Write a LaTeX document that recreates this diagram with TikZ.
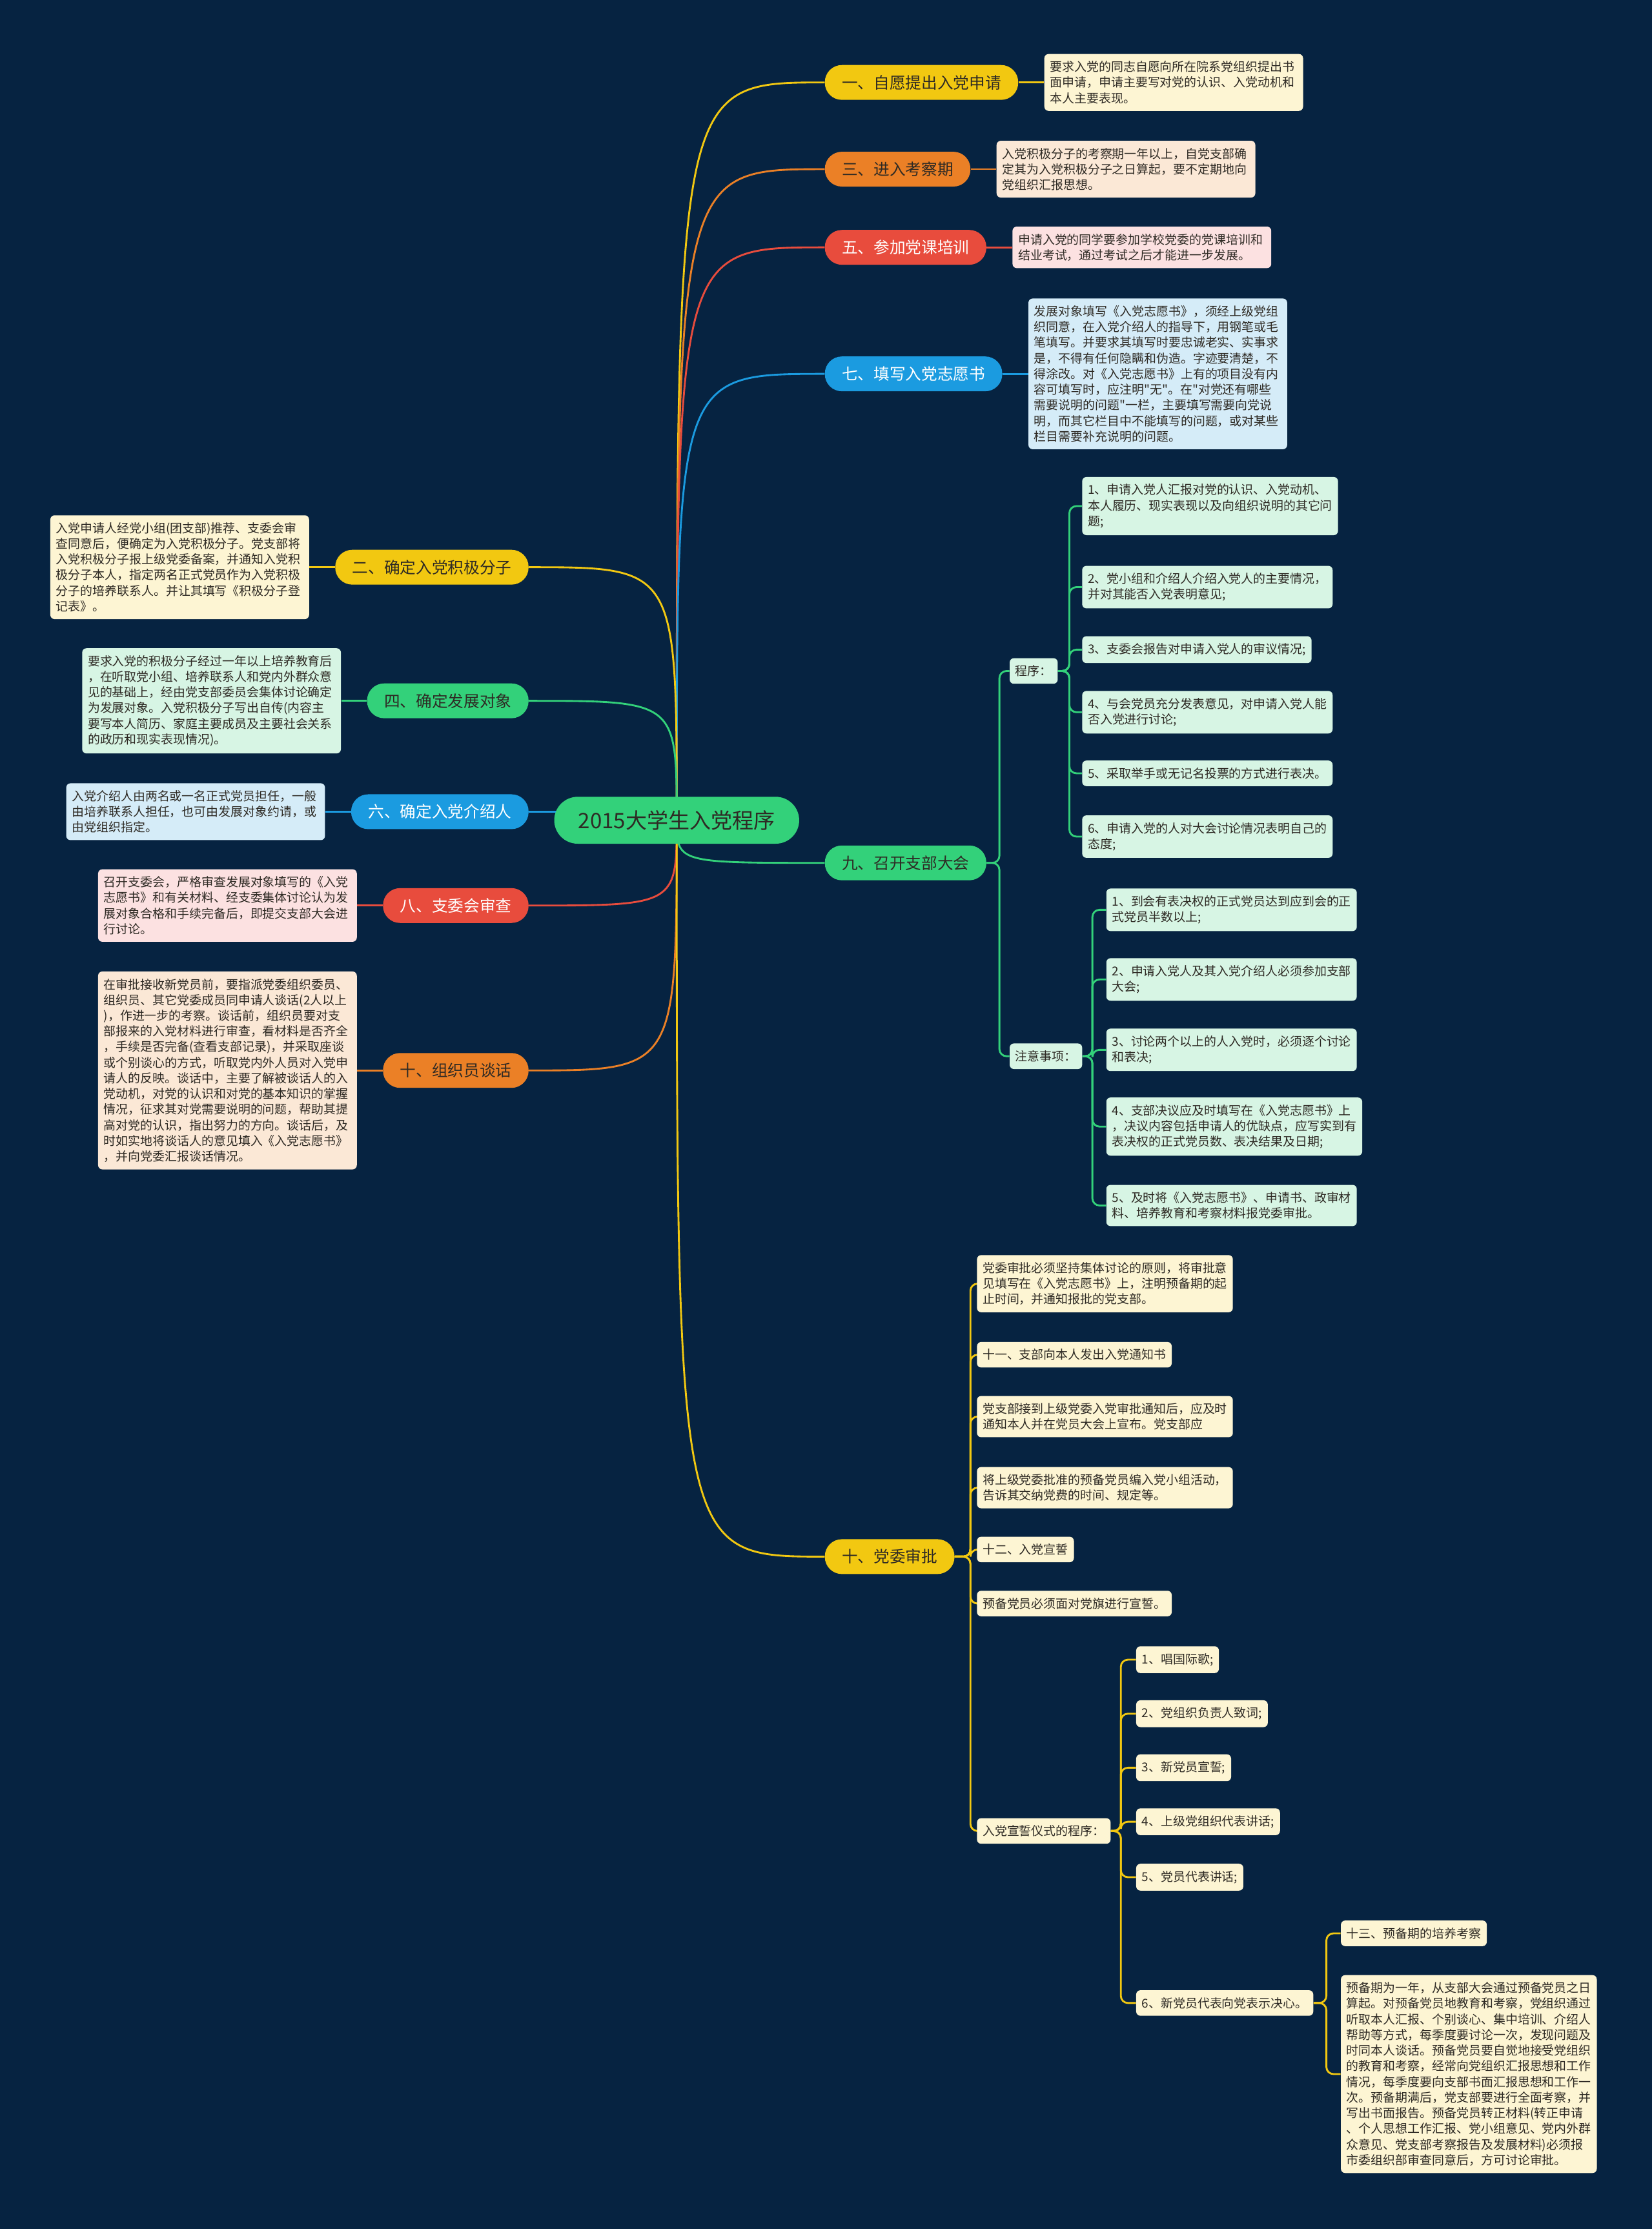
\documentclass[tikz,border=0pt]{standalone}
\usepackage{fontspec}
\setmainfont{Noto Sans CJK SC}[Ligatures=TeXOff]
\usetikzlibrary{positioning}

\definecolor{bgnavy}{HTML}{062341}
\definecolor{cyellow}{HTML}{F2C811}
\definecolor{corange}{HTML}{EB8026}
\definecolor{cred}{HTML}{E84C3D}
\definecolor{cblue}{HTML}{1B9BE0}
\definecolor{cgreen}{HTML}{33D17A}
\definecolor{fcream}{HTML}{FDF5D3}
\definecolor{fpeach}{HTML}{FBE8D6}
\definecolor{fpink}{HTML}{FCE1E1}
\definecolor{fblue}{HTML}{D5ECF8}
\definecolor{fgreen}{HTML}{D7F5E4}
\definecolor{inkdark}{HTML}{2E2A24}

\pgfdeclarelayer{backdrop}
\pgfdeclarelayer{links}
\pgfsetlayers{backdrop,links,main}

\begin{document}
\begin{tikzpicture}[
    x=1pt,y=-1pt,
    line cap=round,
    line join=round,
    pill/.style={rounded corners=12pt,minimum height=24.5pt,inner xsep=12pt,inner ysep=2pt,
        font=\fontsize{11.2}{13}\selectfont,text=inkdark},
    rootpill/.style={pill,fill=cgreen,rounded corners=16.5pt,minimum height=33pt,
        inner xsep=17pt,font=\fontsize{15}{18}\selectfont},
    desc/.style={rounded corners=3pt,text width=174pt,inner xsep=4pt,inner ysep=5pt,
        align=left,font=\fontsize{8.6}{11}\selectfont,text=inkdark},
    leafbox/.style={rounded corners=3pt,inner xsep=4pt,inner ysep=5pt,align=left,
        font=\fontsize{8.6}{11}\selectfont,text=inkdark,anchor=west},
    mainline/.style={line width=1.3pt},
    subline/.style={line width=1.3pt,rounded corners=5pt},
]

\begin{pgfonlayer}{backdrop}
    \fill[bgnavy] (0,0) rectangle (1162,1568);
\end{pgfonlayer}
\useasboundingbox (0,0) rectangle (1162,1568);

\node[rootpill] (R) at (476,577) {2015大学生入党程序};

% right branches
\node[pill,fill=cyellow,anchor=west] (b1) at (580,58) {一、自愿提出入党申请};
\node[pill,fill=corange,anchor=west] (b3) at (580,119) {三、进入考察期};
\node[pill,fill=cred,text=white,anchor=west] (b5) at (580,174) {五、参加党课培训};
\node[pill,fill=cblue,text=white,anchor=west] (b7) at (580,263) {七、填写入党志愿书};
\node[pill,fill=cgreen,anchor=west] (b9) at (580,607) {九、召开支部大会};
\node[pill,fill=cyellow,anchor=west] (b12) at (580,1095) {十、党委审批};

\node[desc,fill=fcream,right=18pt of b1] (d1) {要求入党的同志自愿向所在院系党组织提出书\\面申请，申请主要写对党的认识、入党动机和\\本人主要表现。};
\node[desc,fill=fpeach,right=18pt of b3] (d3) {入党积极分子的考察期一年以上，自党支部确\\定其为入党积极分子之日算起，要不定期地向\\党组织汇报思想。};
\node[desc,fill=fpink,right=18pt of b5] (d5) {申请入党的同学要参加学校党委的党课培训和\\结业考试，通过考试之后才能进一步发展。};
\node[desc,fill=fblue,right=18pt of b7] (d7) {发展对象填写《入党志愿书》，须经上级党组\\织同意，在入党介绍人的指导下，用钢笔或毛\\笔填写。并要求其填写时要忠诚老实、实事求\\是，不得有任何隐瞒和伪造。字迹要清楚，不\\得涂改。对《入党志愿书》上有的项目没有内\\容可填写时，应注明"无"。在"对党还有哪些\\需要说明的问题"一栏，主要填写需要向党说\\明，而其它栏目中不能填写的问题，或对某些\\栏目需要补充说明的问题。};

% left branches
\node[pill,fill=cyellow,anchor=east] (b2) at (372,399) {二、确定入党积极分子};
\node[pill,fill=cgreen,anchor=east] (b4) at (372,493) {四、确定发展对象};
\node[pill,fill=cblue,text=white,anchor=east] (b6) at (372,571) {六、确定入党介绍人};
\node[pill,fill=cred,text=white,anchor=east] (b8) at (372,637) {八、支委会审查};
\node[pill,fill=corange,anchor=east] (b10) at (372,753) {十、组织员谈话};

\node[desc,fill=fcream,left=18pt of b2] (d2) {入党申请人经党小组(团支部)推荐、支委会审\\查同意后，便确定为入党积极分子。党支部将\\入党积极分子报上级党委备案，并通知入党积\\极分子本人，指定两名正式党员作为入党积极\\分子的培养联系人。并让其填写《积极分子登\\记表》。};
\node[desc,fill=fgreen,left=18pt of b4] (d4) {要求入党的积极分子经过一年以上培养教育后\\，在听取党小组、培养联系人和党内外群众意\\见的基础上，经由党支部委员会集体讨论确定\\为发展对象。入党积极分子写出自传(内容主\\要写本人简历、家庭主要成员及主要社会关系\\的政历和现实表现情况)。};
\node[desc,fill=fblue,left=18pt of b6] (d6) {入党介绍人由两名或一名正式党员担任，一般\\由培养联系人担任，也可由发展对象约请，或\\由党组织指定。};
\node[desc,fill=fpink,left=18pt of b8] (d8) {召开支委会，严格审查发展对象填写的《入党\\志愿书》和有关材料、经支委集体讨论认为发\\展对象合格和手续完备后，即提交支部大会进\\行讨论。};
\node[desc,fill=fpeach,left=18pt of b10] (d10) {在审批接收新党员前，要指派党委组织委员、\\组织员、其它党委成员同申请人谈话(2人以上\\)，作进一步的考察。谈话前，组织员要对支\\部报来的入党材料进行审查，看材料是否齐全\\，手续是否完备(查看支部记录)，并采取座谈\\或个别谈心的方式，听取党内外人员对入党申\\请人的反映。谈话中，主要了解被谈话人的入\\党动机，对党的认识和对党的基本知识的掌握\\情况，征求其对党需要说明的问题，帮助其提\\高对党的认识，指出努力的方向。谈话后，及\\时如实地将谈话人的意见填入《入党志愿书》\\，并向党委汇报谈话情况。};

% meeting
\node[leafbox,fill=fgreen] (g1) at (710,472) {程序：};
\node[leafbox,fill=fgreen] (g2) at (710,743) {注意事项：};

\node[leafbox,fill=fgreen] (pr1) at (761,356) {1、申请入党人汇报对党的认识、入党动机、\\本人履历、现实表现以及向组织说明的其它问\\题;};
\node[leafbox,fill=fgreen] (pr2) at (761,413) {2、党小组和介绍人介绍入党人的主要情况，\\并对其能否入党表明意见;};
\node[leafbox,fill=fgreen] (pr3) at (761,457) {3、支委会报告对申请入党人的审议情况;};
\node[leafbox,fill=fgreen] (pr4) at (761,501) {4、与会党员充分发表意见，对申请入党人能\\否入党进行讨论;};
\node[leafbox,fill=fgreen] (pr5) at (761,544) {5、采取举手或无记名投票的方式进行表决。};
\node[leafbox,fill=fgreen] (pr6) at (761,588.5) {6、申请入党的人对大会讨论情况表明自己的\\态度;};

\node[leafbox,fill=fgreen] (nt1) at (778,640) {1、到会有表决权的正式党员达到应到会的正\\式党员半数以上;};
\node[leafbox,fill=fgreen] (nt2) at (778,689) {2、申请入党人及其入党介绍人必须参加支部\\大会;};
\node[leafbox,fill=fgreen] (nt3) at (778,738.5) {3、讨论两个以上的人入党时，必须逐个讨论\\和表决;};
\node[leafbox,fill=fgreen] (nt4) at (778,792.5) {4、支部决议应及时填写在《入党志愿书》上\\，决议内容包括申请人的优缺点，应写实到有\\表决权的正式党员数、表决结果及日期;};
\node[leafbox,fill=fgreen] (nt5) at (778,848) {5、及时将《入党志愿书》、申请书、政审材\\料、培养教育和考察材料报党委审批。};

% approval
\node[leafbox,fill=fcream] (a1) at (687,903) {党委审批必须坚持集体讨论的原则，将审批意\\见填写在《入党志愿书》上，注明预备期的起\\止时间，并通知报批的党支部。};
\node[leafbox,fill=fcream] (a2) at (687,953) {十一、支部向本人发出入党通知书};
\node[leafbox,fill=fcream] (a3) at (687,996.5) {党支部接到上级党委入党审批通知后，应及时\\通知本人并在党员大会上宣布。党支部应};
\node[leafbox,fill=fcream] (a4) at (687,1046.5) {将上级党委批准的预备党员编入党小组活动，\\告诉其交纳党费的时间、规定等。};
\node[leafbox,fill=fcream] (a5) at (687,1090) {十二、入党宣誓};
\node[leafbox,fill=fcream] (a6) at (687,1128) {预备党员必须面对党旗进行宣誓。};
\node[leafbox,fill=fcream] (a7) at (687,1288) {入党宣誓仪式的程序：};

\node[leafbox,fill=fcream] (c1) at (799,1167.5) {1、唱国际歌;};
\node[leafbox,fill=fcream] (c2) at (799,1205.5) {2、党组织负责人致词;};
\node[leafbox,fill=fcream] (c3) at (799,1243.5) {3、新党员宣誓;};
\node[leafbox,fill=fcream] (c4) at (799,1281.5) {4、上级党组织代表讲话;};
\node[leafbox,fill=fcream] (c5) at (799,1320.5) {5、党员代表讲话;};
\node[leafbox,fill=fcream] (c6) at (799,1409) {6、新党员代表向党表示决心。};

\node[leafbox,fill=fcream] (e1) at (943,1360) {十三、预备期的培养考察};
\node[leafbox,fill=fcream] (e2) at (943,1459) {预备期为一年，从支部大会通过预备党员之日\\算起。对预备党员地教育和考察，党组织通过\\听取本人汇报、个别谈心、集中培训、介绍人\\帮助等方式，每季度要讨论一次，发现问题及\\时同本人谈话。预备党员要自觉地接受党组织\\的教育和考察，经常向党组织汇报思想和工作\\情况，每季度要向支部书面汇报思想和工作一\\次。预备期满后，党支部要进行全面考察，并\\写出书面报告。预备党员转正材料(转正申请\\、个人思想工作汇报、党小组意见、党内外群\\众意见、党支部考察报告及发展材料)必须报\\市委组织部审查同意后，方可讨论审批。};

\begin{pgfonlayer}{links}
    \foreach \n/\col in {1/cyellow,3/corange,5/cred,7/cblue}{
        \draw[mainline,\col] (R.center) .. controls (R.center |- b\n.west) and (R.center |- b\n.west) .. (b\n.west);
        \draw[mainline,\col] (b\n.east) -- (d\n.west);
    }
    \foreach \n/\col in {2/cyellow,4/cgreen,6/cblue,8/cred,10/corange}{
        \draw[mainline,\col] (R.center) .. controls (R.center |- b\n.east) and (R.center |- b\n.east) .. (b\n.east);
        \draw[mainline,\col] (b\n.west) -- (d\n.east);
    }
    \foreach \n/\col in {9/cgreen,12/cyellow}
        \draw[mainline,\col] (R.center) .. controls (R.center |- b\n.west) and (R.center |- b\n.west) .. (b\n.west);

    \foreach \k in {1,2}
        \draw[subline,cgreen] (b9.east) -- ++(9,0) |- (g\k.west);
    \foreach \k in {1,...,6}
        \draw[subline,cgreen] (g1.east) -- ++(8,0) |- (pr\k.west);
    \foreach \k in {1,...,5}
        \draw[subline,cgreen] (g2.east) -- ++(7,0) |- (nt\k.west);

    \foreach \k in {1,...,7}
        \draw[subline,cyellow] (b12.east) -- ++(11,0) |- (a\k.west);
    \foreach \k in {1,...,6}
        \draw[subline,cyellow] (a7.east) -- ++(7,0) |- (c\k.west);
    \foreach \k in {1,2}
        \draw[subline,cyellow] (c6.east) -- ++(9,0) |- (e\k.west);
\end{pgfonlayer}

\end{tikzpicture}
\end{document}
